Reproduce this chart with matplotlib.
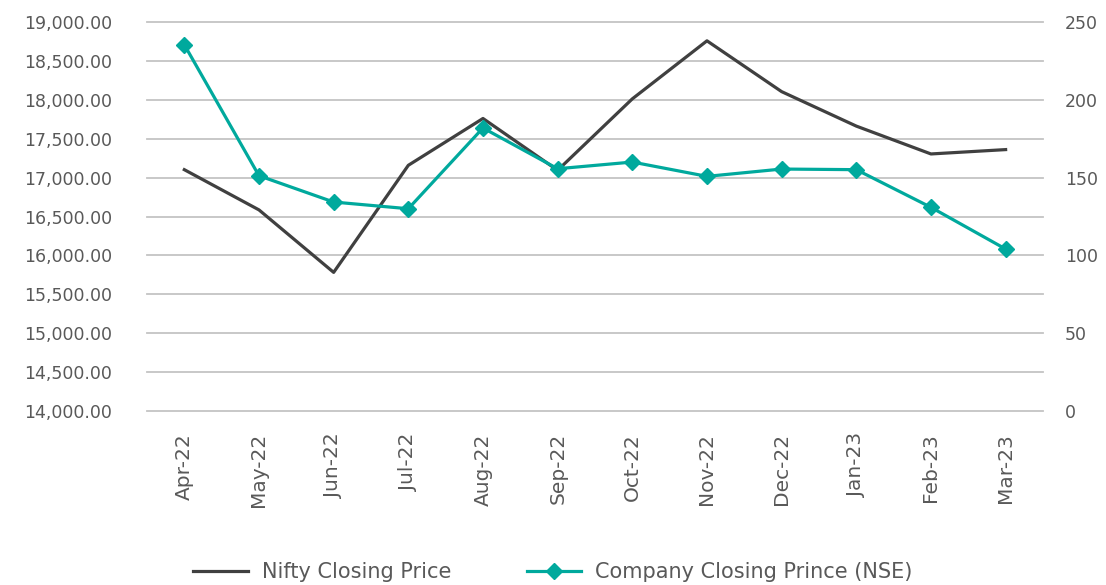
import matplotlib.pyplot as plt
from matplotlib.ticker import FuncFormatter, MultipleLocator

# data
months = ['Apr-22', 'May-22', 'Jun-22', 'Jul-22', 'Aug-22', 'Sep-22',
          'Oct-22', 'Nov-22', 'Dec-22', 'Jan-23', 'Feb-23', 'Mar-23']
nifty = [17102, 16585, 15782, 17158, 17760, 17094,
         18012, 18758, 18105, 17662, 17304, 17360]
company = [235.4, 151.2, 134.3, 130.0, 181.9, 155.7,
           160.0, 150.8, 155.5, 155.1, 130.9, 104.1]

grey_txt = '#595959'
nifty_col = '#404040'
comp_col = '#00a99d'

plt.rcParams['font.family'] = ['DejaVu Sans']

fig = plt.figure(figsize=(11.06, 5.85), dpi=100)
ax = fig.add_axes([0.1329, 0.2974, 0.943 - 0.1329, 0.9624 - 0.2974])
ax2 = ax.twinx()

x = list(range(len(months)))
l1, = ax.plot(x, nifty, color=nifty_col, lw=2.3, label='Nifty Closing Price', zorder=3)
l2, = ax2.plot(x, company, color=comp_col, lw=2.3, marker='D', markersize=8.5,
               label='Company Closing Prince (NSE)', zorder=3)

ax.set_xlim(-0.5, len(months) - 0.5)
ax.set_ylim(14000, 19000)
ax2.set_ylim(0, 250)
ax.yaxis.set_major_locator(MultipleLocator(500))
ax2.yaxis.set_major_locator(MultipleLocator(50))
ax.yaxis.set_major_formatter(FuncFormatter(lambda v, p: f'{v:,.2f}'))

ax.grid(axis='y', color='#c4c4c4', lw=1.3, zorder=0)
ax.set_axisbelow(True)
for gl in ax.get_ygridlines():
    gl.set_clip_on(False)

ax.set_xticks(x)
ax.set_xticklabels(months, rotation=90)

for a in (ax, ax2):
    for s in a.spines.values():
        s.set_visible(False)
    a.tick_params(length=0, labelsize=12.5, labelcolor=grey_txt)
ax.tick_params(axis='y', pad=25)
ax.tick_params(axis='x', pad=16, labelsize=14.5)
ax2.tick_params(axis='y', pad=16)

fig.legend(handles=[l1, l2], loc='center', bbox_to_anchor=(0.5, 0.022), ncol=2,
           frameon=False, fontsize=15, labelcolor=grey_txt, handlelength=2.6,
           columnspacing=3.6, handletextpad=0.7)

fig.savefig('out.png', dpi=100)
